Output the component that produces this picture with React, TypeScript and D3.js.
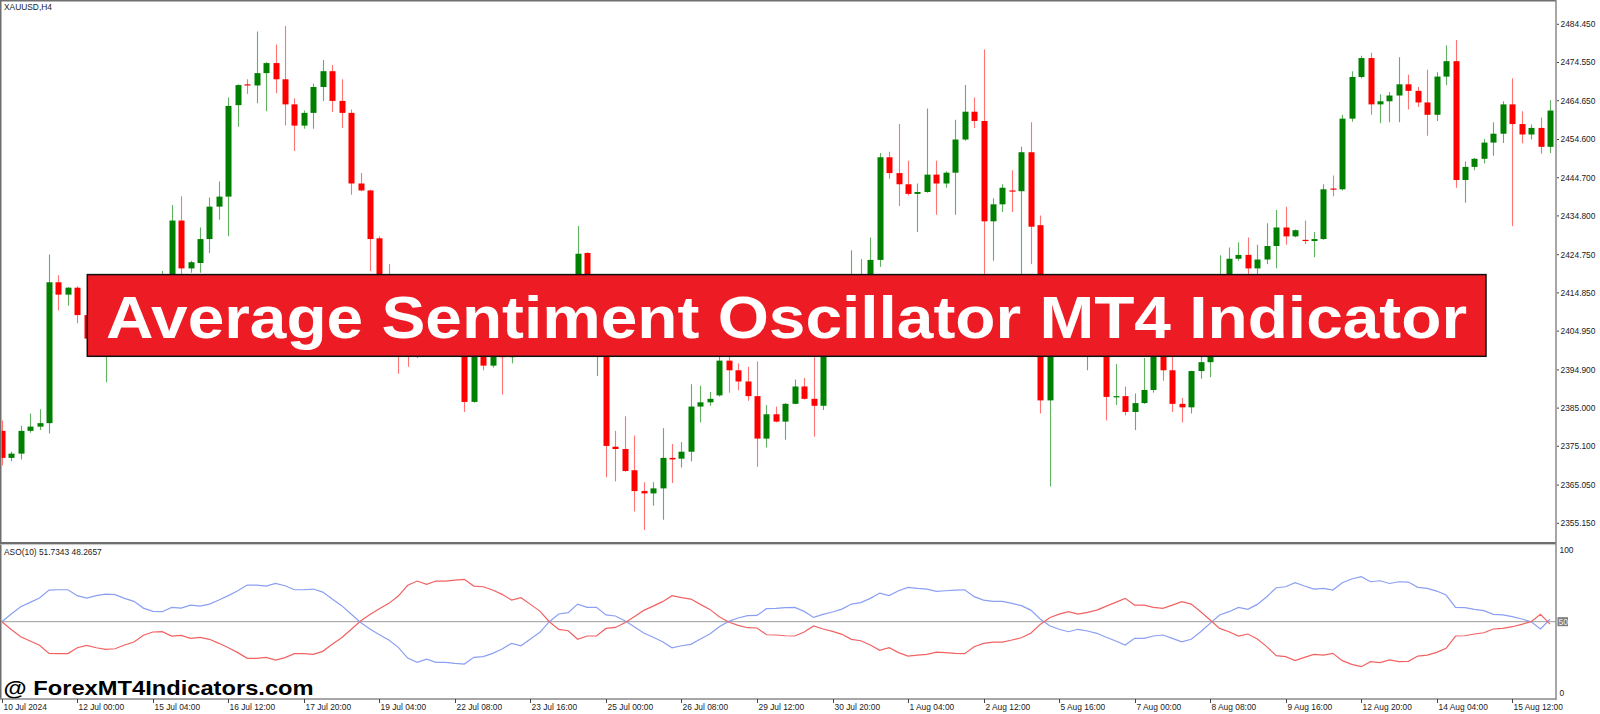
import * as d3 from 'd3';

const WIDTH = 1600;
const HEIGHT = 714;
const AXIS_X = 1556; // right price scale line
const MAIN_BOTTOM = 543; // separator between price and indicator panes
const SUB_BOTTOM = 699; // time axis line
const BAR_STEP = 9.44;
const FIRST_BAR_X = 1.8;

// XAUUSD H4 candles (bars hidden by the banner are estimates)
const OPEN = [
  2379.1, 2372.1, 2373.2, 2379.1, 2380.2, 2381.1, 2417.6, 2414.4, 2416.2, 2409.1,
  2403.0, 2400.5, 2402.5, 2405.8, 2404.0, 2409.2, 2411.5, 2408.5, 2412.0, 2433.6,
  2421.2, 2422.6, 2428.8, 2437.2, 2439.8, 2463.5, 2468.9, 2468.6, 2471.8, 2474.4,
  2470.2, 2463.7, 2458.2, 2461.5, 2468.2, 2472.3, 2464.6, 2461.5, 2443.2, 2441.4,
  2429.0, 2416.0, 2408.0, 2401.0, 2399.5, 2403.5, 2407.0, 2405.0, 2406.0, 2404.0,
  2386.6, 2400.8, 2396.0, 2400.5, 2398.2, 2401.5, 2404.0, 2402.5, 2406.0, 2408.5,
  2410.0, 2415.0, 2425.2, 2408.0, 2411.0, 2375.0, 2374.4, 2368.9, 2363.5, 2362.9,
  2364.2, 2372.1, 2371.9, 2373.7, 2385.4, 2386.5, 2388.3, 2397.3, 2394.8, 2391.9,
  2388.1, 2377.1, 2383.4, 2381.5, 2386.1, 2390.6, 2387.4, 2385.6, 2403.0, 2406.0,
  2410.0, 2416.0, 2418.0, 2423.4, 2450.0, 2445.9, 2443.0, 2440.5, 2441.0, 2445.5,
  2443.2, 2446.0, 2454.6, 2461.8, 2459.4, 2433.4, 2437.8, 2441.4, 2441.2, 2451.3,
  2432.4, 2387.0, 2405.0, 2408.0, 2404.0, 2406.0, 2409.0, 2405.0, 2387.9, 2388.1,
  2384.0, 2386.3, 2389.7, 2400.0, 2394.8, 2386.1, 2385.2, 2394.6, 2396.9, 2401.0,
  2414.0, 2423.7, 2424.7, 2421.2, 2423.5, 2427.0, 2431.8, 2429.5, 2428.6, 2428.3,
  2428.8, 2441.9, 2441.7, 2460.0, 2470.8, 2475.7, 2463.7, 2464.5, 2466.0, 2468.9,
  2467.2, 2464.2, 2461.0, 2470.9, 2474.9, 2444.1, 2447.5, 2449.6, 2453.8, 2456.1,
  2463.7, 2458.6, 2455.9, 2457.6, 2452.7,
];
const HIGH = [
  2381.8, 2373.7, 2380.4, 2383.6, 2384.7, 2424.8, 2419.4, 2416.4, 2416.6, 2410.0,
  2406.0, 2404.0, 2407.0, 2409.0, 2410.5, 2413.0, 2414.0, 2420.5, 2437.6, 2439.9,
  2423.2, 2431.8, 2439.6, 2443.7, 2465.5, 2468.9, 2470.2, 2482.6, 2474.6, 2479.2,
  2484.0, 2465.3, 2462.1, 2469.1, 2475.2, 2473.9, 2470.2, 2462.4, 2445.9, 2441.6,
  2429.5, 2422.3, 2410.0, 2404.0, 2405.0, 2409.0, 2410.0, 2408.0, 2409.0, 2406.0,
  2402.0, 2403.0, 2401.5, 2402.0, 2402.0, 2405.0, 2407.0, 2407.0, 2409.5, 2412.0,
  2417.0, 2432.2, 2425.4, 2413.0, 2413.0, 2379.1, 2382.9, 2377.9, 2365.8, 2365.8,
  2379.8, 2375.7, 2376.2, 2391.2, 2390.8, 2389.2, 2399.0, 2398.5, 2396.6, 2395.7,
  2397.1, 2385.8, 2385.4, 2386.3, 2392.4, 2392.8, 2398.2, 2404.0, 2408.0, 2412.0,
  2425.9, 2423.6, 2429.2, 2451.1, 2451.4, 2458.6, 2449.1, 2443.2, 2462.6, 2449.1,
  2446.4, 2459.7, 2468.7, 2465.5, 2477.9, 2439.4, 2443.0, 2446.6, 2452.7, 2459.1,
  2434.9, 2408.0, 2412.0, 2414.0, 2409.0, 2411.0, 2413.0, 2407.0, 2396.4, 2390.6,
  2388.8, 2398.0, 2402.0, 2403.0, 2399.0, 2387.6, 2394.7, 2398.5, 2403.0, 2424.6,
  2426.6, 2428.0, 2429.2, 2427.3, 2432.9, 2436.3, 2437.2, 2431.3, 2433.6, 2430.6,
  2443.0, 2445.3, 2461.0, 2472.3, 2476.3, 2477.1, 2466.3, 2466.9, 2475.9, 2471.4,
  2468.2, 2472.7, 2472.0, 2479.0, 2480.4, 2448.9, 2449.8, 2454.7, 2459.1, 2464.5,
  2470.5, 2461.9, 2458.5, 2460.3, 2464.8,
];
const LOW = [
  2370.1, 2371.2, 2371.7, 2378.6, 2379.3, 2378.4, 2410.3, 2411.5, 2407.0, 2401.0,
  2398.5, 2391.7, 2400.0, 2402.0, 2403.0, 2406.0, 2407.0, 2406.5, 2410.0, 2418.0,
  2420.1, 2420.1, 2425.2, 2433.8, 2429.5, 2457.9, 2466.4, 2464.0, 2461.9, 2466.6,
  2458.2, 2451.6, 2457.4, 2457.4, 2464.6, 2461.7, 2457.6, 2440.3, 2441.2, 2420.5,
  2414.0, 2406.0, 2393.9, 2395.7, 2398.0, 2401.0, 2403.0, 2401.0, 2401.5, 2384.0,
  2386.4, 2394.8, 2395.5, 2388.5, 2396.6, 2399.0, 2401.0, 2400.0, 2403.0, 2405.0,
  2407.0, 2413.0, 2405.0, 2393.3, 2367.1, 2366.0, 2368.5, 2358.2, 2353.4, 2359.7,
  2356.1, 2365.6, 2369.6, 2371.2, 2381.3, 2385.6, 2388.0, 2389.0, 2389.6, 2386.9,
  2369.8, 2374.8, 2381.3, 2376.8, 2386.0, 2387.2, 2377.6, 2384.5, 2400.0, 2403.0,
  2408.0, 2412.0, 2415.0, 2421.6, 2444.4, 2437.4, 2440.1, 2430.6, 2440.8, 2435.1,
  2442.1, 2435.1, 2454.3, 2457.6, 2417.0, 2423.2, 2435.8, 2435.8, 2418.0, 2422.3,
  2383.6, 2364.7, 2400.0, 2402.0, 2399.5, 2394.8, 2403.0, 2381.8, 2385.8, 2383.1,
  2379.3, 2386.1, 2389.0, 2392.1, 2384.0, 2381.3, 2383.6, 2392.6, 2393.0, 2399.0,
  2412.0, 2423.2, 2419.5, 2419.5, 2422.3, 2421.2, 2427.3, 2429.3, 2427.5, 2424.1,
  2428.6, 2439.9, 2441.4, 2459.2, 2470.5, 2461.0, 2458.8, 2459.1, 2459.1, 2462.4,
  2463.0, 2455.6, 2459.4, 2468.7, 2442.1, 2438.2, 2446.6, 2448.4, 2450.4, 2453.7,
  2432.2, 2453.6, 2454.6, 2450.9, 2451.1,
];
const CLOSE = [
  2372.1, 2373.2, 2379.1, 2380.2, 2381.1, 2417.6, 2414.4, 2416.2, 2409.1, 2403.0,
  2400.5, 2402.5, 2405.8, 2404.0, 2409.2, 2411.5, 2408.5, 2412.0, 2433.6, 2421.2,
  2422.8, 2428.8, 2437.2, 2439.8, 2463.3, 2468.7, 2468.6, 2471.8, 2474.4, 2470.2,
  2463.7, 2458.2, 2461.5, 2468.2, 2472.3, 2464.6, 2461.5, 2443.2, 2441.4, 2428.8,
  2416.0, 2408.0, 2401.0, 2399.5, 2403.5, 2407.0, 2405.0, 2406.0, 2404.0, 2386.6,
  2400.8, 2396.0, 2400.5, 2398.2, 2401.5, 2404.0, 2402.5, 2406.0, 2408.5, 2410.0,
  2415.0, 2425.0, 2408.0, 2411.0, 2375.2, 2374.4, 2368.7, 2363.5, 2362.9, 2364.2,
  2372.1, 2371.7, 2373.7, 2385.4, 2386.5, 2387.4, 2397.3, 2394.8, 2391.9, 2388.1,
  2377.1, 2383.4, 2381.5, 2386.1, 2390.6, 2387.4, 2385.6, 2403.0, 2406.0, 2410.0,
  2416.0, 2418.0, 2423.4, 2450.0, 2445.9, 2443.0, 2440.5, 2441.0, 2445.5, 2443.2,
  2446.0, 2454.6, 2461.8, 2459.4, 2433.4, 2437.8, 2442.1, 2441.1, 2451.3, 2432.0,
  2387.0, 2405.0, 2408.0, 2404.0, 2406.0, 2409.0, 2405.0, 2387.9, 2388.1, 2384.0,
  2386.3, 2389.7, 2400.0, 2394.8, 2386.1, 2385.2, 2394.6, 2396.9, 2401.0, 2414.0,
  2423.7, 2424.7, 2421.2, 2423.5, 2427.0, 2431.8, 2429.5, 2431.1, 2428.3, 2428.8,
  2441.7, 2441.6, 2460.0, 2470.8, 2475.7, 2463.7, 2464.5, 2466.0, 2468.9, 2467.2,
  2464.2, 2461.0, 2470.9, 2474.9, 2444.1, 2447.5, 2449.6, 2453.8, 2456.1, 2463.7,
  2458.6, 2455.9, 2457.6, 2452.7, 2462.1,
];

// ASO(10) bulls (blue) and bears (red)
const ASO_BULLS = [
  50.0, 55.4, 60.5, 63.5, 66.5, 72.1, 72.3, 72.3, 68.2, 66.5,
  68.2, 69.3, 68.9, 66.3, 64.2, 59.5, 57.2, 57.0, 60.0, 59.5,
  61.6, 60.9, 62.3, 65.1, 68.2, 71.6, 75.6, 75.6, 74.9, 76.8,
  75.1, 72.3, 72.3, 72.8, 70.7, 65.8, 61.2, 55.4, 49.5, 44.9,
  40.9, 37.2, 32.1, 24.6, 21.6, 23.9, 21.6, 21.6, 20.9, 20.4,
  25.1, 25.6, 27.9, 30.9, 34.9, 33.2, 37.9, 42.6, 50.0, 55.4,
  56.3, 62.3, 60.0, 60.0, 54.7, 54.0, 50.7, 46.5, 42.1, 39.1,
  36.0, 31.8, 33.2, 34.2, 37.9, 41.4, 46.5, 50.2, 52.6, 54.2,
  54.4, 59.1, 59.3, 59.8, 60.0, 57.2, 53.0, 55.1, 56.8, 58.8,
  62.3, 63.3, 66.3, 70.0, 68.2, 71.6, 74.0, 73.3, 72.8, 71.2,
  71.6, 72.1, 72.3, 67.5, 65.1, 64.2, 64.2, 62.8, 61.2, 58.1,
  51.9, 47.2, 44.7, 43.0, 44.7, 43.5, 41.9, 39.1, 36.5, 33.7,
  38.4, 38.4, 40.0, 40.7, 38.4, 36.0, 37.7, 43.0, 48.8, 54.7,
  57.0, 60.0, 58.6, 62.1, 67.4, 73.7, 74.4, 77.2, 74.9, 72.8,
  73.3, 72.1, 77.2, 79.8, 81.4, 77.9, 78.6, 76.7, 77.9, 77.7,
  74.0, 73.3, 71.4, 68.6, 60.0, 59.8, 58.6, 57.7, 55.1, 54.7,
  53.5, 51.9, 50.0, 44.9, 51.7343,
];
const ASO_BEARS = [
  50.0, 44.6, 39.5, 36.5, 33.5, 27.9, 27.7, 27.7, 31.8, 33.5,
  31.8, 30.7, 31.1, 33.7, 35.8, 40.5, 42.8, 43.0, 40.0, 40.5,
  38.4, 39.1, 37.7, 34.9, 31.8, 28.4, 24.4, 24.4, 25.1, 23.2,
  24.9, 27.7, 27.7, 27.2, 29.3, 34.2, 38.8, 44.6, 50.5, 55.1,
  59.1, 62.8, 67.9, 75.4, 78.4, 76.1, 78.4, 78.4, 79.1, 79.6,
  74.9, 74.4, 72.1, 69.1, 65.1, 66.8, 62.1, 57.4, 50.0, 44.6,
  43.7, 37.7, 40.0, 40.0, 45.3, 46.0, 49.3, 53.5, 57.9, 60.9,
  64.0, 68.2, 66.8, 65.8, 62.1, 58.6, 53.5, 49.8, 47.4, 45.8,
  45.6, 40.9, 40.7, 40.2, 40.0, 42.8, 47.0, 44.9, 43.2, 41.2,
  37.7, 36.7, 33.7, 30.0, 31.8, 28.4, 26.0, 26.7, 27.2, 28.8,
  28.4, 27.9, 27.7, 32.5, 34.9, 35.8, 35.8, 37.2, 38.8, 41.9,
  48.1, 52.8, 55.3, 57.0, 55.3, 56.5, 58.1, 60.9, 63.5, 66.3,
  61.6, 61.6, 60.0, 59.3, 61.6, 64.0, 62.3, 57.0, 51.2, 45.3,
  43.0, 40.0, 41.4, 37.9, 32.6, 26.3, 25.6, 22.8, 25.1, 27.2,
  26.7, 27.9, 22.8, 20.2, 18.6, 22.1, 21.4, 23.3, 22.1, 22.3,
  26.0, 26.7, 28.6, 31.4, 40.0, 40.2, 41.4, 42.3, 44.9, 45.3,
  46.5, 48.1, 50.0, 55.1, 48.2657,
];

const PRICE_TICKS = [
  2484.45, 2474.55, 2464.65, 2454.6, 2444.7, 2434.8, 2424.75,
  2414.85, 2404.95, 2394.9, 2385.0, 2375.1, 2365.05, 2355.15,
];
const TIME_LABELS = [
  '10 Jul 2024', '12 Jul 00:00', '15 Jul 04:00', '16 Jul 12:00', '17 Jul 20:00',
  '19 Jul 04:00', '22 Jul 08:00', '23 Jul 16:00', '25 Jul 00:00', '26 Jul 08:00',
  '29 Jul 12:00', '30 Jul 20:00', '1 Aug 04:00', '2 Aug 12:00', '5 Aug 16:00',
  '7 Aug 00:00', '8 Aug 08:00', '9 Aug 16:00', '12 Aug 20:00', '14 Aug 04:00',
  '15 Aug 12:00',
];
const BARS_PER_LABEL = 8;
const ASO_LEVELS = [0, 50, 100];

const UP = '#008000';
const DOWN = '#ff0000';
const WICK_UP = '#62b062';
const WICK_DOWN = '#ff7373';
const BULL = '#8b9ff3';
const BEAR = '#f26262';
const FRAME = '#8a8a8a';
const FONT = '"Liberation Sans", Arial, sans-serif';

export default function App() {
  const n = OPEN.length;
  const x = d3
    .scaleLinear()
    .domain([0, n - 1])
    .range([FIRST_BAR_X, FIRST_BAR_X + BAR_STEP * (n - 1)]);
  const y = d3.scaleLinear().domain([2355.15, 2484.45]).range([523.3, 24.3]);
  const yo = d3.scaleLinear().domain([0, 100]).range([693.3, 550.1]);

  const asoLine = d3
    .line<number>()
    .x((_, i) => x(i))
    .y((d) => yo(d));

  return (
    <svg
      width={WIDTH}
      height={HEIGHT}
      viewBox={`0 0 ${WIDTH} ${HEIGHT}`}
      style={{ position: 'absolute', left: 0, top: 0, display: 'block', background: '#fff' }}
      fontFamily={FONT}
    >
      <defs>
        <clipPath id="mainClip">
          <rect x={1.5} y={1.5} width={AXIS_X - 2} height={MAIN_BOTTOM - 2} />
        </clipPath>
        <clipPath id="subClip">
          <rect x={1.5} y={MAIN_BOTTOM + 1.5} width={AXIS_X - 2} height={SUB_BOTTOM - MAIN_BOTTOM - 2} />
        </clipPath>
      </defs>
      <rect width={WIDTH} height={HEIGHT} fill="#fff" />

      {/* ── Candles ─────────────────────────────────────────────── */}
      <g clipPath="url(#mainClip)">
        {OPEN.map((o, i) => {
          const c = CLOSE[i];
          const up = c >= o;
          const cx = Math.round(x(i)) + 0.5;
          const top = y(Math.max(o, c));
          const bot = y(Math.min(o, c));
          return (
            <g key={i}>
              <line
                x1={cx}
                x2={cx}
                y1={y(HIGH[i])}
                y2={y(LOW[i])}
                stroke={up ? WICK_UP : WICK_DOWN}
                strokeWidth={1.1}
              />
              <rect x={cx - 3} y={top} width={6} height={Math.max(1.2, bot - top)} fill={up ? UP : DOWN} />
            </g>
          );
        })}
      </g>
      <text x={4} y={10} fontSize={8.4} fill="#222">XAUUSD,H4</text>

      {/* ── ASO pane ────────────────────────────────────────────── */}
      <g clipPath="url(#subClip)">
        <line x1={0} x2={AXIS_X} y1={yo(50)} y2={yo(50)} stroke="#9a9a9a" strokeWidth={1} />
        <path d={asoLine(ASO_BULLS) ?? ''} fill="none" stroke={BULL} strokeWidth={1.2} />
        <path d={asoLine(ASO_BEARS) ?? ''} fill="none" stroke={BEAR} strokeWidth={1.2} />
      </g>
      <text x={4} y={555} fontSize={8.4} fill="#222">
        ASO(10) 51.7343 48.2657
      </text>

      {/* ── Frame ───────────────────────────────────────────────── */}
      <line x1={0} x2={AXIS_X} y1={0.75} y2={0.75} stroke="#6e6e6e" strokeWidth={1.5} />
      <line x1={0.75} x2={0.75} y1={0} y2={SUB_BOTTOM} stroke="#6e6e6e" strokeWidth={1.5} />
      <line x1={0} x2={AXIS_X} y1={MAIN_BOTTOM} y2={MAIN_BOTTOM} stroke="#6e6e6e" strokeWidth={2} />
      <line x1={0} x2={AXIS_X} y1={MAIN_BOTTOM + 1.6} y2={MAIN_BOTTOM + 1.6} stroke="#b8b8b8" strokeWidth={0.8} />
      <line x1={AXIS_X} x2={AXIS_X} y1={0} y2={SUB_BOTTOM + 1} stroke={FRAME} strokeWidth={1.5} />
      <line x1={0} x2={AXIS_X} y1={SUB_BOTTOM} y2={SUB_BOTTOM} stroke={FRAME} strokeWidth={1.5} />

      {/* ── Price scale ─────────────────────────────────────────── */}
      {PRICE_TICKS.map((p) => (
        <g key={p} transform={`translate(0,${y(p)})`}>
          <line x1={AXIS_X + 1} x2={AXIS_X + 3} stroke="#444" />
          <text x={AXIS_X + 4.5} dy="0.35em" fontSize={8.4} fill="#222">
            {p.toFixed(3)}
          </text>
        </g>
      ))}

      {/* ASO scale */}
      {ASO_LEVELS.map((v) =>
        v === 50 ? (
          <g key={v} transform={`translate(0,${yo(v)})`}>
            <rect x={AXIS_X + 1.5} y={-4.5} width={10.5} height={9} fill="#7d7d7d" />
            <text x={AXIS_X + 2.5} dy="0.35em" fontSize={8.4} fill="#f0f0f0">
              {v}
            </text>
          </g>
        ) : (
          <text key={v} x={AXIS_X + 3.5} y={yo(v)} dy="0.35em" fontSize={8.4} fill="#222">
            {v}
          </text>
        ),
      )}

      {/* ── Time scale ──────────────────────────────────────────── */}
      {TIME_LABELS.map((label, k) => {
        const tx = Math.round(x(k * BARS_PER_LABEL)) + 0.5;
        return (
          <g key={label}>
            <line x1={tx} x2={tx} y1={SUB_BOTTOM} y2={SUB_BOTTOM + 4} stroke="#444" />
            <text x={tx + 1} y={709.5} fontSize={8.4} fill="#222">
              {label}
            </text>
          </g>
        );
      })}

      {/* ── Overlays ────────────────────────────────────────────── */}
      <rect x={87.3} y={274.6} width={1398.7} height={81.7} fill="#ed1c24" stroke="#111" strokeWidth={1.5} />
      <text
        x={786.5}
        y={337.9}
        textAnchor="middle"
        fontSize={59}
        fontWeight={700}
        fill="#fff"
        textLength={1361}
        lengthAdjust="spacingAndGlyphs"
      >
        Average Sentiment Oscillator MT4 Indicator
      </text>
      <text
        x={3.6}
        y={695}
        fontSize={21}
        fontWeight={700}
        fill="#000"
        textLength={310}
        lengthAdjust="spacingAndGlyphs"
      >
        @ ForexMT4Indicators.com
      </text>
    </svg>
  );
}
